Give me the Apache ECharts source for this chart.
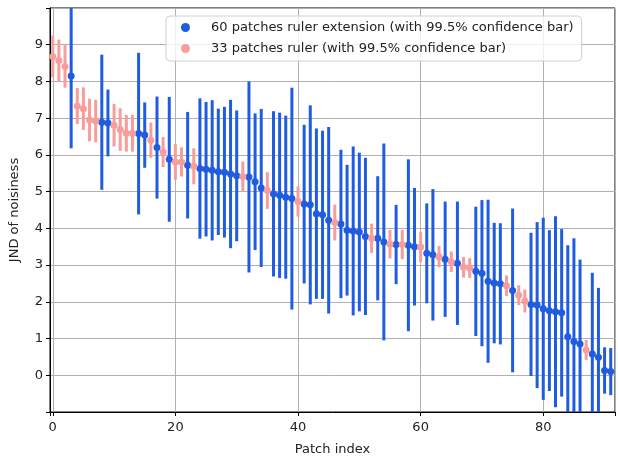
<!DOCTYPE html>
<html>
<head>
<meta charset="UTF-8">
<title>JND of noisiness</title>
<script src="https://cdn.jsdelivr.net/npm/echarts@6/dist/echarts.min.js"></script>
<style>
    html, body { margin: 0; padding: 0; background: #fff; }
    #main { width: 618px; height: 461px; }
</style>
</head>
<body>
<div id="main"></div>
<script>
// 60 patches ruler extension: patch index, JND, half width of the 99.5% bar
var blueIdx = [3, 8, 9, 14, 15, 17, 19, 22, 24, 25, 26, 27, 28, 29, 30, 32, 33, 34, 36, 37,
    38, 39, 41, 42, 43, 44, 45, 47, 48, 49, 50, 51, 53, 54, 56, 58, 59, 61, 62, 64,
    66, 69, 70, 71, 72, 73, 75, 78, 79, 80, 81, 82, 83, 84, 85, 86, 88, 89, 90, 91];
var blueJnd = [8.15, 6.89, 6.87, 6.58, 6.54, 6.20, 5.88, 5.72, 5.63, 5.61, 5.58, 5.54, 5.53, 5.48, 5.43, 5.40, 5.27, 5.10, 4.94, 4.90,
    4.85, 4.81, 4.66, 4.64, 4.40, 4.37, 4.22, 4.12, 3.95, 3.93, 3.90, 3.78, 3.73, 3.63, 3.56, 3.54, 3.50, 3.32, 3.28, 3.16,
    3.05, 2.83, 2.78, 2.56, 2.51, 2.49, 2.31, 1.93, 1.91, 1.81, 1.76, 1.73, 1.70, 1.05, 0.92, 0.85, 0.58, 0.49, 0.13, 0.10];
var blueErr = [1.97, 1.84, 0.91, 2.20, 0.89, 1.39, 1.70, 1.45, 1.91, 1.83, 1.91, 1.72, 1.78, 2.02, 1.78, 2.60, 1.86, 2.15, 2.25, 2.25,
    2.22, 3.02, 2.16, 2.71, 2.32, 2.29, 2.54, 2.02, 1.78, 2.30, 2.16, 2.14, 1.69, 2.68, 1.08, 2.34, 1.60, 1.36, 1.79, 1.57,
    1.68, 1.76, 1.99, 2.22, 1.64, 1.65, 2.23, 1.95, 2.26, 2.48, 2.19, 2.60, 2.28, 2.49, 2.81, 2.30, 2.21, 1.89, 0.63, 0.64];

// 33 patches ruler
var pinkIdx = [0, 1, 2, 4, 5, 6, 7, 10, 11, 12, 13, 16, 18, 20, 21, 23, 31, 35, 40, 46,
    52, 55, 57, 60, 63, 65, 67, 68, 74, 76, 77, 87, 92];
var pinkJnd = [8.68, 8.57, 8.41, 7.33, 7.26, 6.95, 6.92, 6.81, 6.69, 6.59, 6.59, 6.40, 6.08, 5.81, 5.81, 5.69, 5.41, 5.03, 4.73, 4.16,
    3.73, 3.57, 3.56, 3.49, 3.23, 3.09, 2.94, 2.92, 2.44, 2.18, 2.02, 0.69, 0.02];
var pinkErr = [0.57, 0.57, 0.58, 0.49, 0.58, 0.58, 0.58, 0.58, 0.58, 0.50, 0.50, 0.48, 0.41, 0.49, 0.40, 0.49, 0.41, 0.50, 0.41, 0.49,
    0.40, 0.39, 0.40, 0.41, 0.29, 0.28, 0.28, 0.27, 0.28, 0.27, 0.31, 0.27, 0.27];

var blueName = '60 patches ruler extension (with 99.5% confidence bar)';
var pinkName = '33 patches ruler (with 99.5% confidence bar)';
var blueColor = '#1f5ce0';
var pinkColor = '#f99d9b';

function points(idx, val) {
    return idx.map(function (x, i) { return [x, val[i]]; });
}
function bars(idx, val, err) {
    return idx.map(function (x, i) { return [x, val[i] - err[i], val[i] + err[i]]; });
}
function barSeries(name, data, color) {
    return {
        type: 'custom',
        name: name,
        silent: true,
        clip: true,
        data: data,
        encode: { x: 0, y: [1, 2] },
        renderItem: function (params, api) {
            var a = api.coord([api.value(0), api.value(1)]);
            var b = api.coord([api.value(0), api.value(2)]);
            return {
                type: 'line',
                shape: { x1: a[0], y1: a[1], x2: b[0], y2: b[1] },
                style: { stroke: color, lineWidth: 3 }
            };
        }
    };
}

var font = 'DejaVu Sans';
var chart = echarts.init(document.getElementById('main'), null, { renderer: 'canvas' });
chart.setOption({
    animation: false,
    backgroundColor: '#fff',
    textStyle: { fontFamily: font },
    grid: { left: 50, right: 1, top: 8, bottom: 45, show: true, borderColor: '#000', borderWidth: 1 },
    legend: {
        data: [
            { name: blueName, icon: 'circle' },
            { name: pinkName, icon: 'circle' }
        ],
        orient: 'vertical',
        left: 166,
        top: 16,
        itemWidth: 9,
        itemHeight: 9,
        itemGap: 8,
        padding: [5, 8, 6, 15],
        backgroundColor: 'rgba(255,255,255,0.8)',
        borderColor: '#d0d0d0',
        borderWidth: 1,
        borderRadius: 4,
        textStyle: { fontFamily: font, fontSize: 13, color: '#222', padding: [0, 0, 0, 16] }
    },
    xAxis: {
        type: 'value',
        min: -0.45,
        max: 91.7,
        splitNumber: 5,
        name: 'Patch index',
        nameLocation: 'middle',
        nameGap: 31,
        nameTextStyle: { fontFamily: font, fontSize: 13, color: '#222' },
        axisLine: { show: true, onZero: false, lineStyle: { color: '#000', width: 1 } },
        axisTick: { show: true, length: 4, lineStyle: { color: '#000' } },
        axisLabel: {
            fontFamily: font, fontSize: 13, color: '#222', margin: 9,
            formatter: function (v) { return Math.abs(v % 20) < 1e-6 ? String(v) : ''; }
        },
        splitLine: { show: true, lineStyle: { color: '#b0b0b0', width: 1 } }
    },
    yAxis: {
        type: 'value',
        min: -1,
        max: 10,
        interval: 1,
        name: 'JND of noisiness',
        nameLocation: 'middle',
        nameRotate: 90,
        nameGap: 29,
        nameTextStyle: { fontFamily: font, fontSize: 13, color: '#222' },
        axisLine: { show: true, onZero: false, lineStyle: { color: '#000', width: 1 } },
        axisTick: { show: true, length: 4, lineStyle: { color: '#000' } },
        axisLabel: {
            fontFamily: font, fontSize: 13, color: '#222', margin: 7,
            formatter: function (v) { return (v < 0 || v > 9) ? '' : String(v); }
        },
        splitLine: { show: true, lineStyle: { color: '#b0b0b0', width: 1 } }
    },
    series: [
        barSeries('blue bars', bars(blueIdx, blueJnd, blueErr), blueColor),
        {
            type: 'scatter',
            name: blueName,
            symbol: 'circle',
            symbolSize: 7,
            itemStyle: { color: blueColor, opacity: 1 },
            data: points(blueIdx, blueJnd)
        },
        barSeries('pink bars', bars(pinkIdx, pinkJnd, pinkErr), pinkColor),
        {
            type: 'scatter',
            name: pinkName,
            symbol: 'circle',
            symbolSize: 7,
            itemStyle: { color: pinkColor, opacity: 1 },
            data: points(pinkIdx, pinkJnd)
        }
    ]
});
</script>
</body>
</html>
